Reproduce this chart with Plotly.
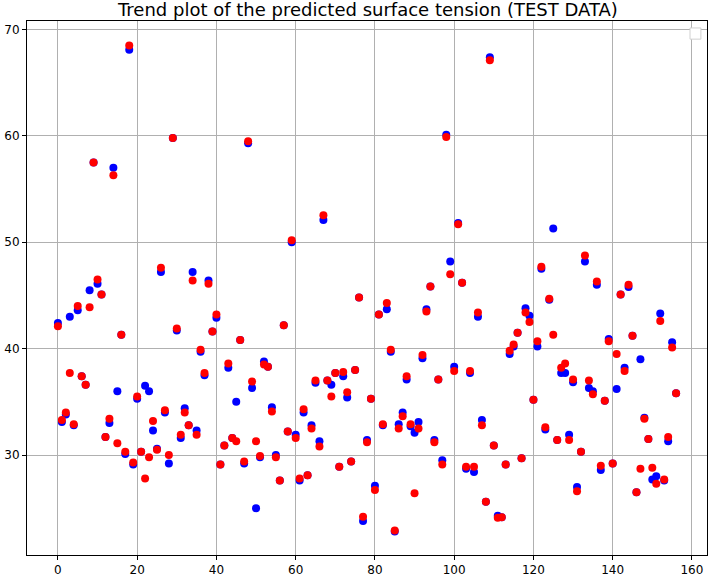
import plotly.graph_objects as go

index = list(range(157))

actual = [
    42.4, 33.1, 33.8, 43.0, 32.8, 43.6, 37.4, 36.6, 45.5, 57.5,
    46.1, 45.1, 31.7, 33.0, 57.0, 36.0, 41.3, 30.1, 68.1, 29.1,
    35.3, 30.3, 36.5, 36.0, 32.3, 30.6, 47.2, 34.0, 29.2, 59.8,
    41.7, 31.6, 34.4, 32.8, 47.2, 32.3, 39.7, 37.5, 46.4, 41.6,
    42.9, 29.1, 30.9, 38.2, 31.6, 35.0, 40.8, 29.2, 59.3, 36.3,
    25.0, 29.8, 38.8, 38.3, 34.5, 30.0, 27.6, 42.2, 32.2, 50.0,
    31.9, 27.6, 34.0, 28.1, 32.8, 36.8, 31.3, 52.1, 37.0, 36.6,
    37.7, 28.9, 37.4, 35.4, 29.4, 38.0, 44.8, 23.8, 31.4, 35.3,
    27.1, 43.2, 32.8, 43.7, 39.7, 22.8, 32.9, 34.0, 37.1, 32.7,
    32.1, 33.1, 39.1, 43.7, 45.85, 31.4, 37.1, 29.5, 60.1, 48.2,
    38.3, 51.8, 46.2, 28.7, 37.7, 28.4, 43.0, 33.3, 25.6, 67.4,
    30.9, 24.3, 24.15, 29.1, 39.5, 40.2, 41.5, 29.7, 43.8, 43.1,
    35.2, 40.2, 47.5, 32.4, 44.6, 51.3, 31.4, 37.7, 37.7, 31.9,
    36.85, 27.0, 30.3, 48.2, 36.3, 36.0, 46.0, 28.6, 35.1, 40.9,
    29.2, 36.2, 45.1, 38.2, 45.8, 41.2, 26.5, 39.0, 33.5, 31.5,
    27.7, 28.0, 43.3, 27.6, 31.3, 40.6, 35.8,
]

predicted = [
    42.1, 33.3, 34.0, 37.7, 32.9, 44.0, 37.4, 36.6, 43.9, 57.5,
    46.5, 45.1, 31.7, 33.4, 56.3, 31.1, 41.3, 30.3, 68.5, 29.3,
    35.5, 30.3, 27.8, 29.8, 33.2, 30.5, 47.6, 34.2, 30.0, 59.8,
    41.9, 31.9, 34.0, 32.8, 46.4, 31.9, 39.9, 37.7, 46.1, 41.6,
    43.2, 29.1, 30.9, 38.6, 31.6, 31.3, 40.8, 29.4, 59.5, 36.9,
    31.3, 29.9, 38.5, 38.3, 34.1, 29.8, 27.6, 42.2, 32.2, 50.2,
    31.6, 27.8, 34.3, 28.1, 32.5, 37.0, 30.8, 52.55, 37.0, 35.5,
    37.7, 28.9, 37.8, 35.9, 29.4, 38.0, 44.8, 24.2, 31.2, 35.3,
    26.7, 43.2, 32.9, 44.3, 39.9, 22.9, 32.5, 33.65, 37.4, 32.9,
    26.4, 32.5, 39.4, 43.5, 45.85, 31.2, 37.1, 29.1, 59.9, 47.0,
    37.9, 51.7, 46.2, 28.9, 37.9, 28.9, 43.4, 32.8, 25.6, 67.1,
    30.9, 24.1, 24.15, 29.1, 39.8, 40.4, 41.5, 29.7, 43.4, 42.5,
    35.2, 40.7, 47.7, 32.6, 44.7, 41.3, 31.4, 38.2, 38.6, 31.4,
    37.1, 26.6, 30.3, 48.75, 37.0, 35.7, 46.3, 29.0, 35.1, 40.7,
    29.2, 39.5, 45.1, 37.9, 46.0, 41.2, 26.5, 28.7, 33.4, 31.5,
    28.8, 27.3, 42.6, 27.7, 31.7, 40.1, 35.8,
]

x_ticks = [0, 20, 40, 60, 80, 100, 120, 140, 160]
y_ticks = [30, 40, 50, 60, 70]

title_text = "Trend plot of the predicted surface tension (TEST DATA)"

fig = go.Figure()
fig.add_trace(go.Scatter(x=index, y=actual, mode="markers",
                         marker=dict(color="#0000ff", size=8, line=dict(width=0)),
                         showlegend=False))
fig.add_trace(go.Scatter(x=index, y=predicted, mode="markers",
                         marker=dict(color="#ff0000", size=8, line=dict(width=0)),
                         showlegend=False))

axis_common = dict(
    showline=True, mirror=True, linecolor="black", linewidth=1,
    showgrid=True, gridcolor="#b0b0b0", gridwidth=1,
    ticks="outside", ticklen=4, tickcolor="black", tickwidth=1,
    zeroline=False, automargin=False,
    tickfont=dict(family="DejaVu Sans", size=12, color="black"),
)

fig.update_layout(
    width=709, height=576,
    margin=dict(l=27, r=2, t=21, b=21, autoexpand=False),
    paper_bgcolor="white", plot_bgcolor="white",
    xaxis=dict(range=[-7.8, 163.8], tickvals=x_ticks, **axis_common),
    yaxis=dict(range=[20.6, 70.8], tickvals=y_ticks, **axis_common),
    font=dict(family="DejaVu Sans", color="black"),
)

fig.add_annotation(text=title_text, xref="paper", yref="paper",
                   x=0.5, y=1, xanchor="center", yanchor="middle",
                   showarrow=False, yshift=12,
                   font=dict(family="DejaVu Sans", size=18, color="black"))

# empty legend box (upper right)
fig.add_shape(type="rect", xref="paper", yref="paper",
              x0=0.975, x1=0.991, y0=0.966, y1=0.987,
              line=dict(color="#d0d0d0", width=1), fillcolor="white")

fig.write_html("out.html",
               config={"displayModeBar": False},
               post_script="document.body.style.margin='0';document.body.style.padding='0';")
